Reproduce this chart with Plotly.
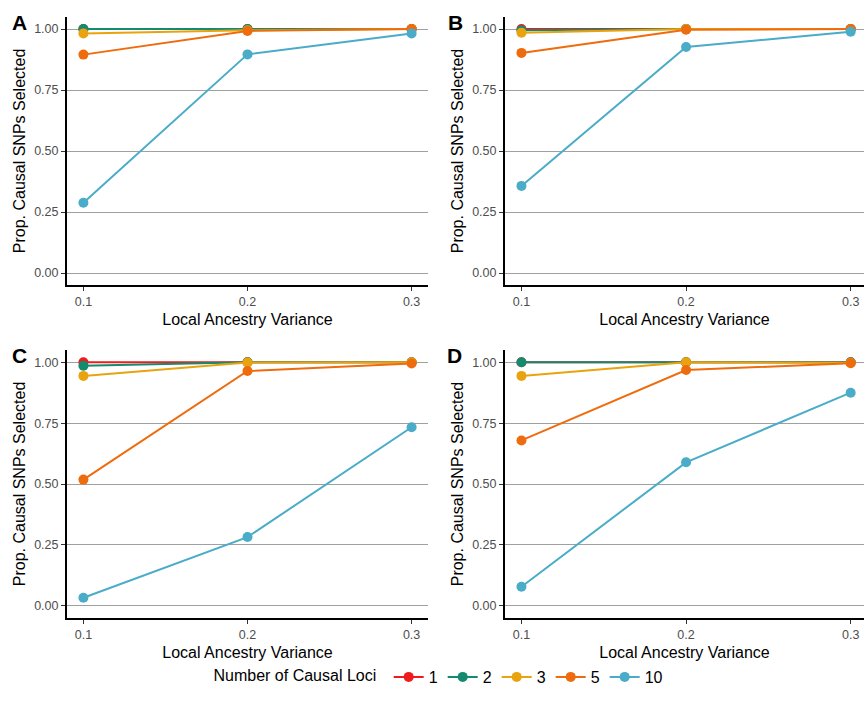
import plotly.graph_objects as go

W, H = 864, 713

x_vals = [0.1, 0.2, 0.3]
loci = ["1", "2", "3", "5", "10"]
colors = ["#EE1C1C", "#148A6E", "#E9A30F", "#EE6C0E", "#4AACC8"]
panels = ["A", "B", "C", "D"]

# values per panel, per loci (order: 1, 2, 3, 5, 10)
values_A = [
    [1.00, 1.00, 1.00],
    [1.00, 1.00, 1.00],
    [0.982, 0.995, 1.00],
    [0.895, 0.992, 1.00],
    [0.288, 0.896, 0.982],
]
values_B = [
    [1.00, 1.00, 1.00],
    [0.995, 1.00, 1.00],
    [0.985, 1.00, 1.00],
    [0.902, 0.997, 1.00],
    [0.357, 0.926, 0.989],
]
values_C = [
    [1.00, 1.00, 1.00],
    [0.986, 1.00, 1.00],
    [0.944, 0.999, 1.00],
    [0.518, 0.964, 0.995],
    [0.033, 0.282, 0.733],
]
values_D = [
    [1.00, 1.00, 1.00],
    [1.00, 1.00, 1.00],
    [0.944, 1.00, 0.998],
    [0.679, 0.968, 0.996],
    [0.078, 0.589, 0.875],
]
all_values = [values_A, values_B, values_C, values_D]

y_ticks = [0.0, 0.25, 0.5, 0.75, 1.0]
y_ticktext = ["0.00", "0.25", "0.50", "0.75", "1.00"]
x_ticktext = ["0.1", "0.2", "0.3"]

# pixel boxes (left, right, top, bottom)
boxes = [
    (67, 428, 16.8, 285.2),
    (505, 864, 16.8, 285.2),
    (67, 428, 350.1, 617.9),
    (505, 864, 350.1, 617.9),
]
label_pos = [(19.5, 22.5), (455.5, 22.5), (19.5, 355), (454.5, 355)]

FONT = "Liberation Sans, Arial, sans-serif"

fig = go.Figure()

for i, (vals, box) in enumerate(zip(all_values, boxes)):
    n = "" if i == 0 else str(i + 1)
    xa, ya = "x" + n, "y" + n
    for j, (name, col) in enumerate(zip(loci, colors)):
        fig.add_trace(go.Scatter(
            x=x_vals, y=vals[j], mode="lines+markers", name=name,
            line=dict(color=col, width=2), marker=dict(color=col, size=10),
            xaxis=xa, yaxis=ya, legendgroup=name, showlegend=(i == 0),
            cliponaxis=False,
        ))
    l, r, t, b = box
    x_rng = [0.09, 0.09 + (r - l) / 1646.0] if i % 2 == 1 else [0.09, 0.31]
    fig.layout["xaxis" + n] = dict(
        domain=[l / W, r / W], range=x_rng, anchor=ya, automargin=False,
        tickvals=x_vals, ticktext=x_ticktext,
        showline=True, linecolor="black", linewidth=2,
        ticks="outside", ticklen=4, tickcolor="#333333", tickwidth=1,
        showgrid=False, zeroline=False,
        tickfont=dict(family=FONT, size=12.5, color="#4D4D4D"),
        title=dict(text="Local Ancestry Variance", standoff=6,
                   font=dict(family=FONT, size=16, color="black")),
    )
    fig.layout["yaxis" + n] = dict(
        domain=[1 - b / H, 1 - t / H], range=[-0.05, 1.05], anchor=xa, automargin=False,
        tickvals=y_ticks, ticktext=y_ticktext,
        showline=True, linecolor="black", linewidth=2,
        ticks="outside", ticklen=4, tickcolor="#333333", tickwidth=1,
        showgrid=True, gridcolor="#A0A0A0", gridwidth=1, zeroline=False,
        tickfont=dict(family=FONT, size=12.5, color="#4D4D4D"),
        title=dict(text="Prop. Causal SNPs Selected", standoff=5,
                   font=dict(family=FONT, size=16, color="black")),
    )
    lx, ly = label_pos[i]
    fig.add_annotation(
        x=lx / W, y=1 - ly / H, xref="paper", yref="paper",
        text="<b>" + panels[i] + "</b>", showarrow=False,
        xanchor="center", yanchor="middle",
        font=dict(family=FONT, size=21, color="black"),
    )

fig.update_layout(
    template="none",
    width=W, height=H,
    margin=dict(l=0, r=0, t=0, b=0, autoexpand=False),
    paper_bgcolor="white", plot_bgcolor="white",
    showlegend=True,
    legend=dict(
        orientation="h", x=440 / W, xanchor="center", y=1 - 677 / H, yanchor="middle",
        title=dict(text="Number of Causal Loci ", side="left",
                   font=dict(family=FONT, size=16, color="black")),
        font=dict(family=FONT, size=16, color="black"),
        itemwidth=30, tracegroupgap=0, bgcolor="rgba(0,0,0,0)",
    ),
)

fig.write_html("out.html",
               config={"displayModeBar": False},
               post_script="document.body.style.margin='0';document.body.style.padding='0';")
